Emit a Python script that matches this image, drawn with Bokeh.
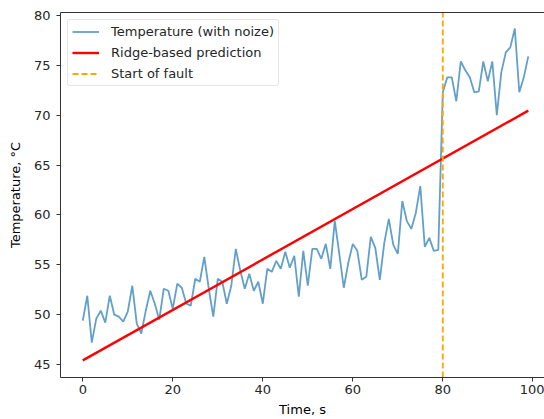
from bokeh.plotting import figure
from bokeh.models import Range1d, LinearAxis, FixedTicker, Legend, LegendItem
from bokeh.embed import file_html
from bokeh.resources import INLINE

time_s = list(range(100))
temperature = [
    49.4, 51.9, 47.2, 49.6, 50.4, 49.2, 51.9, 50.0, 49.8, 49.3,
    50.3, 52.9, 49.1, 48.1, 50.4, 52.4, 51.1, 49.5, 52.6, 52.4,
    50.6, 53.1, 52.7, 51.1, 50.9, 53.6, 53.3, 55.8, 52.6, 49.8,
    53.6, 53.3, 51.1, 52.9, 56.6, 54.4, 52.6, 54.1, 52.4, 53.3,
    51.1, 54.6, 54.3, 55.4, 54.6, 56.3, 54.7, 55.9, 51.8, 56.4,
    52.9, 56.6, 56.6, 55.6, 57.1, 54.6, 59.4, 56.1, 52.7, 55.2,
    57.1, 56.4, 53.5, 53.8, 57.8, 56.7, 53.5, 57.2, 59.6, 57.0,
    56.1, 61.4, 59.4, 58.6, 60.2, 62.9, 56.8, 57.7, 56.4, 56.5,
    72.3, 73.8, 73.8, 71.4, 75.4, 74.5, 73.8, 72.3, 72.4, 75.4,
    73.4, 75.4, 70.0, 74.3, 76.3, 76.8, 78.7, 72.3, 73.8, 75.9,
]
pred_time = [0, 99]
pred_temp = [45.42, 70.46]
fault_time = 80
x_ticks = [0, 20, 40, 60, 80, 100]
y_ticks = [45, 50, 55, 60, 65, 70, 75, 80]
x_lo, x_hi = -4.95, 102.6
y_lo, y_hi = 43.7, 80.3

FONT = "DejaVu Sans"
TXT = "#262626"
SPINE = "#333333"

p = figure(width=544, height=419, output_backend="svg", toolbar_location=None,
           x_range=Range1d(x_lo, x_hi), y_range=Range1d(y_lo, y_hi),
           min_border_left=60, min_border_right=0, min_border_top=12, min_border_bottom=40)
p.grid.visible = False
p.outline_line_color = None
p.background_fill_color = "white"
p.border_fill_color = "white"

r_temp = p.line(time_s, temperature, line_color="#1f77b4", line_alpha=0.7, line_width=1.8)
r_pred = p.line(pred_time, pred_temp, line_color="red", line_width=2.4)
r_fault = p.line([fault_time, fault_time], [y_lo, y_hi], line_color="orange",
                 line_width=1.8, line_dash="6 3")

for ax in (p.xaxis[0], p.yaxis[0]):
    ax.axis_line_color = SPINE
    ax.axis_line_width = 1
    ax.major_tick_line_color = SPINE
    ax.major_tick_out = 4
    ax.major_tick_in = 0
    ax.minor_tick_line_color = None
    ax.major_label_text_font = FONT
    ax.major_label_text_font_size = "13px"
    ax.major_label_text_color = TXT
    ax.axis_label_text_font = FONT
    ax.axis_label_text_font_size = "13px"
    ax.axis_label_text_font_style = "normal"
    ax.axis_label_text_color = "black"

p.xaxis.ticker = FixedTicker(ticks=x_ticks)
p.yaxis.ticker = FixedTicker(ticks=y_ticks)
p.xaxis.axis_label = "Time, s"
p.yaxis.axis_label = "Temperature, °C"
p.xaxis.major_label_standoff = 3
p.xaxis.axis_label_standoff = 5
p.yaxis.major_label_standoff = 6
p.yaxis.axis_label_standoff = 8

top = LinearAxis(ticker=FixedTicker(ticks=[]), axis_line_color=SPINE,
                 major_tick_line_color=None, minor_tick_line_color=None,
                 major_label_text_font_size="0px", major_tick_out=0, minor_tick_out=0,
                 major_label_standoff=0)
p.add_layout(top, "above")

legend = Legend(items=[
    LegendItem(label="Temperature (with noize)", renderers=[r_temp]),
    LegendItem(label="Ridge-based prediction", renderers=[r_pred]),
    LegendItem(label="Start of fault", renderers=[r_fault]),
], location="top_left")
legend.margin = 7
legend.padding = 4
legend.spacing = 6
legend.glyph_width = 27
legend.glyph_height = 15
legend.label_height = 15
legend.label_standoff = 12
legend.label_text_font = FONT
legend.label_text_font_size = "13px"
legend.label_text_color = TXT
legend.border_line_color = "#cccccc"
legend.border_line_width = 1
legend.border_radius = 3
legend.background_fill_alpha = 0.8
p.add_layout(legend, "center")

open("out.html", "w").write(file_html(p, INLINE))
